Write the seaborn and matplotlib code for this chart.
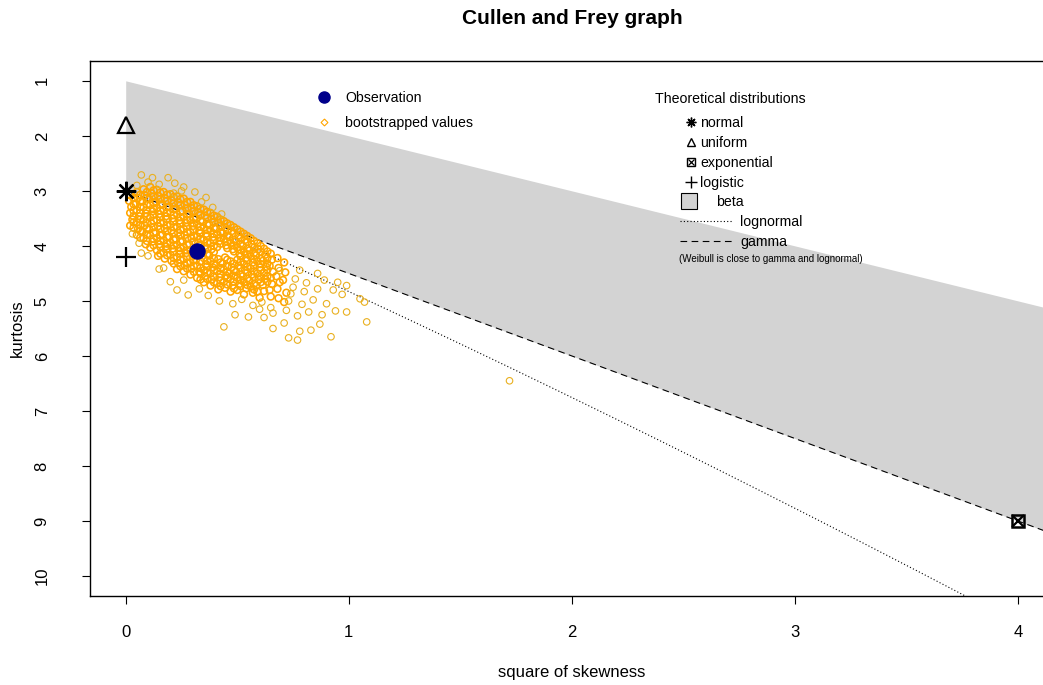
import numpy as np
import pandas as pd
import matplotlib
matplotlib.use("Agg")
import matplotlib.pyplot as plt
from matplotlib.patches import Rectangle
import seaborn as sns

sns.set_style("white")
plt.rcParams["font.family"] = ["Liberation Sans", "DejaVu Sans"]
plt.rcParams["text.color"] = "black"

# ---- values -------------------------------------------------------------
title = "Cullen and Frey graph"
x_label = "square of skewness"
y_label = "kurtosis"
x_ticks = [0, 1, 2, 3, 4]
y_ticks = [1, 2, 3, 4, 5, 6, 7, 8, 9, 10]

observation_s2 = 0.32
observation_kurt = 4.10

theo_names = ["normal", "uniform", "exponential", "logistic"]
theo_s2 = [0.0, 0.0, 4.0, 0.0]
theo_kurt = [3.0, 1.8, 9.0, 4.2]

# bootstrapped (skewness^2, kurtosis) pairs in the dense core, column by column
core_points = [
    (0.02, 3.08), (0.015, 3.18), (0.025, 3.29), (0.02, 3.40), (0.03, 3.52), (0.02, 3.63),
    (0.05, 3.02), (0.055, 3.13), (0.045, 3.24), (0.05, 3.35), (0.06, 3.46), (0.05, 3.57), (0.055, 3.69), (0.05, 3.80),
    (0.08, 2.97), (0.085, 3.08), (0.075, 3.19), (0.08, 3.30), (0.09, 3.41), (0.08, 3.52), (0.085, 3.63), (0.075, 3.74), (0.08, 3.86), (0.09, 3.97),
    (0.11, 2.93), (0.115, 3.04), (0.105, 3.15), (0.11, 3.26), (0.12, 3.37), (0.11, 3.48), (0.115, 3.59), (0.105, 3.70), (0.11, 3.81), (0.12, 3.92), (0.11, 4.03),
    (0.14, 2.98), (0.145, 3.09), (0.135, 3.20), (0.14, 3.31), (0.15, 3.42), (0.14, 3.53), (0.145, 3.64), (0.135, 3.75), (0.14, 3.86), (0.15, 3.97), (0.14, 4.08), (0.145, 4.18),
    (0.17, 3.02), (0.175, 3.13), (0.165, 3.24), (0.17, 3.35), (0.18, 3.46), (0.17, 3.57), (0.175, 3.68), (0.165, 3.79), (0.17, 3.90), (0.18, 4.01), (0.17, 4.12), (0.175, 4.23),
    (0.20, 3.06), (0.205, 3.17), (0.195, 3.28), (0.20, 3.39), (0.21, 3.50), (0.20, 3.61), (0.205, 3.72), (0.195, 3.83), (0.20, 3.94), (0.21, 4.05), (0.20, 4.16), (0.205, 4.27),
    (0.23, 3.10), (0.235, 3.21), (0.225, 3.32), (0.23, 3.43), (0.24, 3.54), (0.23, 3.65), (0.235, 3.76), (0.225, 3.87), (0.23, 3.98), (0.24, 4.09), (0.23, 4.20), (0.235, 4.31), (0.23, 4.42),
    (0.26, 3.14), (0.265, 3.25), (0.255, 3.36), (0.26, 3.47), (0.27, 3.58), (0.26, 3.69), (0.265, 3.80), (0.255, 3.91), (0.26, 4.02), (0.27, 4.13), (0.26, 4.24), (0.265, 4.35), (0.26, 4.46),
    (0.29, 3.20), (0.295, 3.31), (0.285, 3.42), (0.29, 3.53), (0.30, 3.64), (0.29, 3.75), (0.295, 3.86), (0.285, 3.97), (0.29, 4.08), (0.30, 4.19), (0.29, 4.30), (0.295, 4.41), (0.29, 4.52),
    (0.32, 3.28), (0.325, 3.39), (0.315, 3.50), (0.32, 3.61), (0.33, 3.72), (0.32, 3.83), (0.325, 3.94), (0.315, 4.25), (0.32, 4.36), (0.33, 4.47), (0.32, 4.58),
    (0.35, 3.34), (0.355, 3.45), (0.345, 3.56), (0.35, 3.67), (0.36, 3.78), (0.35, 3.89), (0.355, 4.00), (0.345, 4.11), (0.35, 4.22), (0.36, 4.33), (0.35, 4.44), (0.355, 4.55), (0.35, 4.66),
    (0.38, 3.40), (0.385, 3.51), (0.375, 3.62), (0.38, 3.73), (0.39, 3.84), (0.38, 3.95), (0.385, 4.06), (0.375, 4.17), (0.38, 4.28), (0.39, 4.39), (0.38, 4.50), (0.385, 4.61), (0.38, 4.72),
    (0.41, 3.47), (0.415, 3.58), (0.405, 3.69), (0.41, 3.80), (0.42, 3.91), (0.41, 4.02), (0.415, 4.24), (0.405, 4.35), (0.41, 4.46), (0.42, 4.57), (0.41, 4.68), (0.415, 4.79),
    (0.44, 3.55), (0.445, 3.66), (0.435, 3.77), (0.44, 3.88), (0.45, 3.99), (0.445, 4.21), (0.435, 4.32), (0.44, 4.43), (0.45, 4.54), (0.44, 4.65), (0.445, 4.76),
    (0.47, 3.62), (0.475, 3.73), (0.465, 3.84), (0.47, 3.95), (0.48, 4.06), (0.47, 4.28), (0.475, 4.39), (0.465, 4.50), (0.47, 4.61), (0.48, 4.72), (0.47, 4.83),
    (0.50, 3.70), (0.505, 3.81), (0.495, 3.92), (0.50, 4.03), (0.51, 4.14), (0.50, 4.25), (0.505, 4.36), (0.495, 4.47), (0.50, 4.58), (0.51, 4.69), (0.50, 4.80),
    (0.53, 3.78), (0.535, 3.89), (0.525, 4.00), (0.53, 4.11), (0.54, 4.22), (0.53, 4.33), (0.535, 4.44), (0.525, 4.55), (0.53, 4.66), (0.54, 4.77), (0.53, 4.88),
    (0.56, 3.86), (0.565, 3.97), (0.555, 4.08), (0.56, 4.19), (0.57, 4.30), (0.56, 4.41), (0.565, 4.52), (0.555, 4.63), (0.56, 4.74), (0.57, 4.85),
    (0.59, 3.95), (0.595, 4.06), (0.585, 4.17), (0.59, 4.28), (0.60, 4.39), (0.59, 4.50), (0.595, 4.61), (0.585, 4.72), (0.59, 4.83), (0.60, 4.94),
    (0.62, 4.05), (0.625, 4.16), (0.615, 4.27), (0.63, 4.38), (0.62, 4.49), (0.625, 4.60), (0.615, 4.71), (0.62, 4.82),
    (0.65, 4.14), (0.655, 4.25), (0.645, 4.36), (0.66, 4.47), (0.65, 4.58), (0.655, 4.69), (0.645, 4.80), (0.65, 4.92),
    (0.68, 4.22), (0.685, 4.40), (0.675, 4.55), (0.69, 4.66), (0.68, 4.78), (0.685, 4.95),
    (0.71, 4.30), (0.715, 4.48), (0.705, 4.62), (0.72, 4.85), (0.71, 5.02),
]

# more core readings: skewness^2 -> kurtosis values
core_columns = {
    0.035: [3.13, 3.24, 3.36, 3.46, 3.57, 3.67],
    0.065: [3.07, 3.19, 3.29, 3.40, 3.52, 3.62, 3.73, 3.85],
    0.095: [3.02, 3.13, 3.25, 3.35, 3.46, 3.58, 3.68, 3.79, 3.91],
    0.125: [2.99, 3.10, 3.21, 3.33, 3.43, 3.54, 3.66, 3.76, 3.87, 3.99],
    0.155: [3.03, 3.15, 3.25, 3.36, 3.48, 3.58, 3.69, 3.81, 3.91, 4.02, 4.14],
    0.185: [3.07, 3.18, 3.30, 3.40, 3.51, 3.63, 3.73, 3.84, 3.96, 4.06, 4.17],
    0.215: [3.11, 3.23, 3.33, 3.44, 3.56, 3.66, 3.77, 3.89, 3.99, 4.10, 4.22, 4.32],
    0.245: [3.15, 3.26, 3.38, 3.48, 3.59, 3.71, 3.81, 3.92, 4.04, 4.14, 4.25, 4.37],
    0.275: [3.20, 3.32, 3.42, 3.53, 3.65, 3.75, 3.86, 3.98, 4.08, 4.19, 4.31, 4.41],
    0.305: [3.26, 3.37, 3.49, 3.59, 3.70, 3.82, 3.92, 4.25, 4.37, 4.47],
    0.335: [3.32, 3.44, 3.54, 3.65, 3.77, 3.87, 3.98, 4.28, 4.40, 4.50, 4.61],
    0.365: [3.38, 3.49, 3.61, 3.71, 3.82, 3.94, 4.04, 4.15, 4.27, 4.37, 4.48, 4.60],
    0.395: [3.45, 3.57, 3.67, 3.78, 3.90, 4.00, 4.11, 4.23, 4.33, 4.44, 4.56, 4.66],
    0.425: [3.52, 3.63, 3.75, 3.85, 3.96, 4.30, 4.40, 4.51, 4.63, 4.73],
    0.455: [3.59, 3.71, 3.81, 3.92, 4.04, 4.25, 4.37, 4.47, 4.58, 4.70],
    0.485: [3.66, 3.77, 3.89, 3.99, 4.10, 4.32, 4.44, 4.54, 4.65, 4.77],
    0.515: [3.74, 3.86, 3.96, 4.07, 4.19, 4.29, 4.40, 4.52, 4.62, 4.73],
    0.545: [3.82, 3.93, 4.05, 4.15, 4.26, 4.38, 4.48, 4.59, 4.71],
    0.575: [3.91, 4.03, 4.13, 4.24, 4.36, 4.46, 4.57, 4.69, 4.79],
    0.605: [4.00, 4.11, 4.23, 4.33, 4.44, 4.56, 4.66],
    0.635: [4.10, 4.22, 4.32, 4.43, 4.55, 4.65],
}

# bootstrapped values outside the core
fringe_points = [
    # above the core
    (0.07, 2.71), (0.12, 2.76), (0.19, 2.76), (0.10, 2.84), (0.15, 2.88), (0.22, 2.86),
    (0.05, 2.90), (0.26, 2.93), (0.31, 3.02), (0.215, 3.04), (0.25, 3.00), (0.36, 3.12),
    (0.39, 3.30), (0.43, 3.42), (0.34, 3.20),
    # lower left
    (0.07, 4.13), (0.03, 3.78), (0.06, 3.95), (0.10, 4.18), (0.15, 4.42), (0.20, 4.65),
    (0.23, 4.80), (0.28, 4.89), (0.17, 4.40), (0.26, 4.62),
    # lower middle
    (0.33, 4.78), (0.37, 4.90), (0.42, 5.00), (0.44, 5.47), (0.49, 5.25), (0.55, 5.29),
    (0.48, 5.05), (0.52, 4.97), (0.57, 5.08), (0.61, 5.02), (0.65, 5.12), (0.60, 5.15),
    (0.66, 5.22), (0.72, 5.17), (0.77, 5.27), (0.62, 5.30), (0.66, 5.50), (0.71, 5.40),
    # right tail
    (0.74, 4.87), (0.76, 4.60), (0.78, 4.44), (0.80, 4.83), (0.81, 4.67), (0.82, 5.20),
    (0.84, 4.98), (0.86, 4.50), (0.86, 4.78), (0.88, 5.25), (0.89, 4.62), (0.90, 5.05),
    (0.93, 4.80), (0.94, 5.18), (0.95, 4.66), (0.97, 4.88), (0.99, 4.72), (0.99, 5.20),
    (1.05, 4.96), (1.07, 5.02), (0.79, 5.06), (0.73, 5.00), (0.78, 5.55), (0.83, 5.53),
    (0.73, 5.67), (0.77, 5.71), (0.92, 5.65), (1.08, 5.38), (0.87, 5.42), (0.75, 4.75),
    (0.69, 4.45),
    (1.72, 6.45),
]

# ---- figure -------------------------------------------------------------
W, H = 1043, 685
fig = plt.figure(figsize=(W / 100, H / 100), dpi=100)
ax = fig.add_axes([90 / W, 1 - 596 / H, (1054 - 90) / W, (596 - 61) / H])
ax.set_xlim(-0.16, 4.16)
ax.set_ylim(10.36, 0.64)


def fig_xy(px, py):
    return px / W, 1 - py / H


# beta region: between the lower bound kurt = s2 + 1 and the gamma line
s2_grid = np.linspace(0, 4.3, 300)
ax.fill_between(s2_grid, s2_grid + 1, 3 + 1.5 * s2_grid, color="lightgrey", lw=0, zorder=1)

# gamma line (shape a): s2 = 4/a, kurt = 3 + 6/a
shape = np.linspace(0.9, 400, 2000)
gamma_df = pd.DataFrame({"s2": 4 / shape, "kurt": 3 + 6 / shape})
sns.lineplot(data=gamma_df, x="s2", y="kurt", sort=False, color="black", lw=0.8,
             linestyle=(0, (6, 4)), ax=ax, zorder=2)

# lognormal line
w = np.exp(np.linspace(0, 0.3, 800))
lnorm_df = pd.DataFrame({"s2": (w + 2) ** 2 * (w - 1),
                         "kurt": w ** 4 + 2 * w ** 3 + 3 * w ** 2 - 3})
sns.lineplot(data=lnorm_df, x="s2", y="kurt", sort=False, color="black", lw=0.8,
             linestyle=(0, (1, 2)), ax=ax, zorder=2)

# bootstrapped values
extra = [(x, k) for x, ks in core_columns.items() for k in ks]
core_df = pd.DataFrame(core_points + extra, columns=["s2", "kurt"])
fringe_df = pd.DataFrame(fringe_points, columns=["s2", "kurt"])
sns.scatterplot(data=core_df, x="s2", y="kurt", marker="o", s=24,
                facecolors="none", edgecolor="orange", linewidth=1.15, ax=ax, zorder=3)
sns.scatterplot(data=fringe_df, x="s2", y="kurt", marker="o", s=22,
                facecolors="none", edgecolor="#E9B020", linewidth=0.8, ax=ax, zorder=3)

# observation
sns.scatterplot(x=[observation_s2], y=[observation_kurt], color="darkblue", s=120,
                edgecolor="darkblue", ax=ax, zorder=4)

# theoretical distributions
theo = dict(zip(theo_names, zip(theo_s2, theo_kurt)))
ax.plot(*theo["normal"], marker=(8, 2, 0), ms=14, mew=1.6, color="black", clip_on=False, zorder=5)
ax.plot(*theo["uniform"], marker="^", ms=11, mew=1.6, mfc="none", mec="black", clip_on=False, zorder=5)
ax.plot(*theo["logistic"], marker="+", ms=15, mew=1.6, color="black", clip_on=False, zorder=5)
ax.plot(*theo["exponential"], marker="s", ms=9, mew=1.8, mfc="none", mec="black", zorder=5)
ax.plot(*theo["exponential"], marker="x", ms=8, mew=1.6, color="black", zorder=5)

# axes
for sp in ax.spines.values():
    sp.set_color("black")
    sp.set_linewidth(1.0)
ax.set_xticks(x_ticks)
ax.set_xticklabels([str(t) for t in x_ticks])
ax.set_yticks(y_ticks)
ax.set_yticklabels([str(t) for t in y_ticks], rotation=90, va="center")
ax.tick_params(axis="both", direction="out", length=6, width=0.8, labelsize=12,
               colors="black", bottom=True, left=True)
ax.tick_params(axis="x", pad=15)
ax.tick_params(axis="y", pad=23)
ax.set_xlabel("")
ax.set_ylabel("")

fig.text(*fig_xy(572, 19), title, ha="center", va="center", fontsize=15, fontweight="bold")
fig.text(*fig_xy(572, 672), x_label, ha="center", va="center", fontsize=12)
fig.text(*fig_xy(17, 328), y_label, ha="center", va="center", fontsize=12, rotation=90)

# legend: observation / bootstrap
lg = dict(transform=fig.transFigure, clip_on=False)
ax.plot(*fig_xy(324, 97), marker="o", ms=8, color="darkblue", **lg)
fig.text(*fig_xy(345, 98), "Observation", ha="left", va="center", fontsize=10.2)
ax.plot(*fig_xy(324, 122), marker="D", ms=3.5, mfc="none", mec="orange", mew=0.8, **lg)
fig.text(*fig_xy(345, 123), "bootstrapped values", ha="left", va="center", fontsize=10.2)

# legend: theoretical distributions
fig.text(*fig_xy(655, 99), "Theoretical distributions", ha="left", va="center", fontsize=10.2)
ax.plot(*fig_xy(691, 122), marker=(8, 2, 0), ms=7, mew=1.0, color="black", **lg)
ax.plot(*fig_xy(691, 142), marker="^", ms=6, mew=1.0, mfc="none", mec="black", **lg)
ax.plot(*fig_xy(691, 162), marker="s", ms=6, mew=1.0, mfc="none", mec="black", **lg)
ax.plot(*fig_xy(691, 162), marker="x", ms=5, mew=0.9, color="black", **lg)
ax.plot(*fig_xy(691, 182), marker="+", ms=8, mew=1.0, color="black", **lg)
for name, py in [("normal", 122), ("uniform", 142), ("exponential", 162), ("logistic", 182)]:
    fig.text(*fig_xy(700, py + 1), name, ha="left", va="center", fontsize=10.2)
x0, y0 = fig_xy(681, 209)
fig.add_artist(Rectangle((x0, y0), 16 / W, 16 / H, transform=fig.transFigure,
                         facecolor="lightgrey", edgecolor="black", lw=0.8))
fig.text(*fig_xy(716, 202), "beta", ha="left", va="center", fontsize=10.2)
xa, ya = fig_xy(680, 221)
xb, _ = fig_xy(733, 221)
ax.plot([xa, xb], [ya, ya], color="black", lw=0.8, linestyle=(0, (1, 2)), **lg)
fig.text(*fig_xy(740, 222), "lognormal", ha="left", va="center", fontsize=10.2)
xa, ya = fig_xy(680, 241)
ax.plot([xa, xb], [ya, ya], color="black", lw=0.8, linestyle=(0, (6, 4)), **lg)
fig.text(*fig_xy(740, 242), "gamma", ha="left", va="center", fontsize=10.2)
fig.text(*fig_xy(771, 259), "(Weibull is close to gamma and lognormal)", ha="center",
         va="center", fontsize=7)

fig.savefig("out.png", dpi=100, facecolor="white")
